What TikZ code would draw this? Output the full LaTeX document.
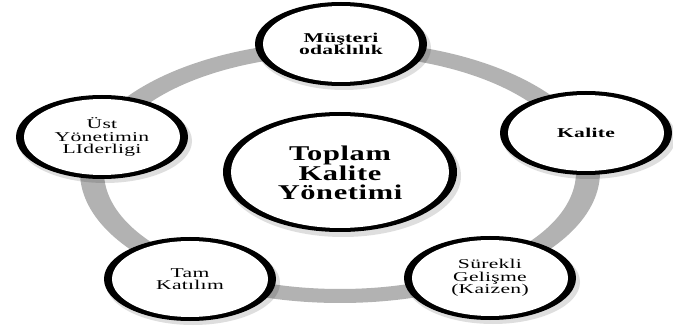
\documentclass[tikz,border=0pt]{standalone}
\usepackage{fontspec}
\usepackage{tikz}
\newfontfamily\wideserif[FakeStretch=1.6, LetterSpace=2]{Liberation Serif}
\newfontfamily\centreserif[FakeStretch=1.45, LetterSpace=3]{Liberation Serif}
\definecolor{ringgray}{RGB}{178,178,178}
\tikzset{
  ringband/.style={fill=ringgray, even odd rule},
  ovalshadow/.style={fill=black, opacity=0.13},
  ovaltext/.style={align=center, inner sep=0pt, font=\wideserif\fontsize{13.5}{12.5}\selectfont},
  centretext/.style={align=center, inner sep=0pt, font=\centreserif\bfseries\fontsize{21}{19.5}\selectfont}
}

\begin{document}
\begin{tikzpicture}[x=1pt, y=-1pt]
  \useasboundingbox (0,0) rectangle (673,326);
  % grey ring behind the ovals
  \fill[ringband] (340,172) ellipse [x radius=260, y radius=131]
                  (340,172) ellipse [x radius=236, y radius=117];
  % centre oval
  \fill[ovalshadow] (343,176) ellipse [x radius=118, y radius=61];
  \fill[black] (340,172) ellipse [x radius=117, y radius=60];
  \fill[white] (340,172) ellipse [x radius=109, y radius=56];
  \node[centretext] (tkm) at (340,173) {Toplam\\Kalite\\Yönetimi};
  % outer ovals
  \foreach \n/\x/\y/\t in {
      musteri/341/44/{\bfseries Müşteri\\\bfseries odaklılık},
      kalite/586/133/{\bfseries Kalite},
      surekli/490/278/{Sürekli\\Gelişme\\(Kaizen)},
      katilim/190/279/{Tam\\Katılım},
      liderlik/102/137/{Üst\\Yönetimin\\LIderligi}}{
    \fill[ovalshadow] (\x+3,\y+4) ellipse [x radius=87, y radius=42];
    \fill[black] (\x,\y) ellipse [x radius=86, y radius=42];
    \fill[white] (\x,\y) ellipse [x radius=78, y radius=38];
    \node[ovaltext] (\n) at (\x,\y) {\t};
  }
\end{tikzpicture}
\end{document}
